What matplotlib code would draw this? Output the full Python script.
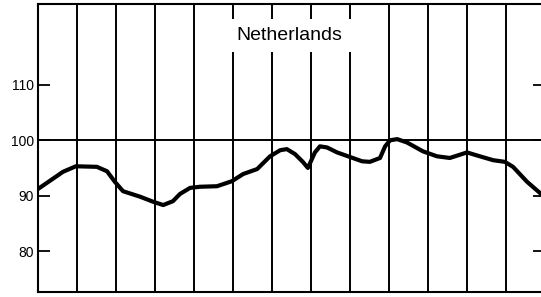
import matplotlib.pyplot as plt

# Netherlands index curve (x in grid-column units)
x = [0.0, 0.31, 0.64, 0.97, 1.51, 1.77, 1.97, 2.18, 2.62, 2.95, 3.21, 3.46,
     3.64, 3.90, 4.15, 4.59, 4.97, 5.26, 5.62, 5.95, 6.21, 6.38, 6.59, 6.79,
     6.92, 7.10, 7.23, 7.41, 7.67, 7.95, 8.31, 8.51, 8.77, 8.90, 9.03, 9.21,
     9.46, 9.87, 10.23, 10.56, 11.0, 11.33, 11.67, 11.97, 12.18, 12.54, 12.90]
y = [91.2, 92.7, 94.3, 95.3, 95.2, 94.4, 92.5, 90.8, 89.8, 88.9, 88.3, 89.0,
     90.3, 91.4, 91.6, 91.7, 92.6, 93.9, 94.8, 97.1, 98.2, 98.4, 97.5, 96.1,
     95.0, 97.8, 98.9, 98.7, 97.8, 97.1, 96.2, 96.1, 96.8, 98.9, 100.0, 100.2,
     99.6, 98.0, 97.1, 96.8, 97.8, 97.1, 96.4, 96.1, 95.2, 92.5, 90.3]
yticks = [80, 90, 100, 110]
grid_x = list(range(1, 13))
title = 'Netherlands'

fig = plt.figure(figsize=(5.41, 2.97), dpi=100)
ax = fig.add_axes([38 / 541, 5 / 297, 507 / 541, 288 / 297])

ax.set_xlim(0, 13)
ax.set_ylim(72.6, 124.6)

ax.vlines(grid_x, 72.6, 124.6, color='black', lw=1.4, zorder=1)
ax.axhline(100, color='black', lw=1.4, zorder=1)
ax.plot(x, y, color='black', lw=3, solid_joinstyle='round',
        solid_capstyle='round', zorder=3)

ax.text(6.45, 118.9, title, ha='center', va='center', fontsize=14,
        family=['Liberation Sans', 'DejaVu Sans'],
        bbox=dict(facecolor='white', edgecolor='none', pad=6), zorder=4)

ax.set_xticks([])
ax.set_yticks(yticks)
ax.set_yticklabels([str(v) for v in yticks], fontsize=10,
                   family=['Liberation Sans', 'DejaVu Sans'])
ax.tick_params(axis='y', direction='in', length=8.5, width=1.3, pad=3,
               right=True, labelright=False)
for s in ax.spines.values():
    s.set_linewidth(1.5)

fig.savefig('out.png', dpi=100)
